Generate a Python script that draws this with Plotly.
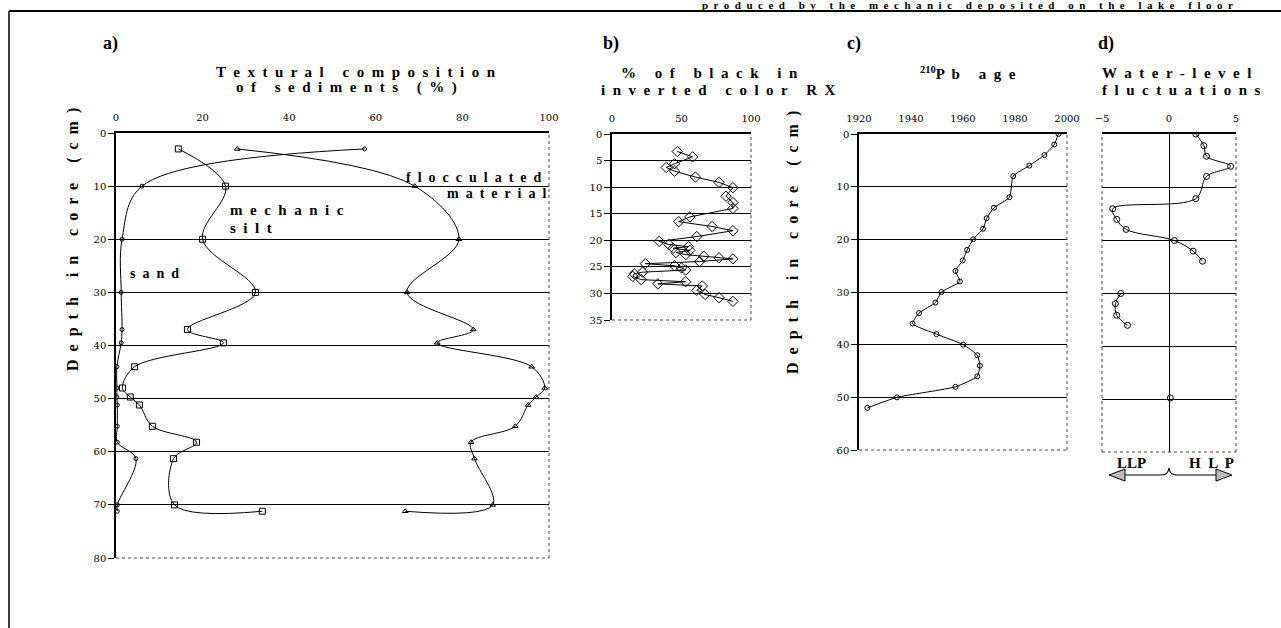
import plotly.graph_objects as go

# ---------------- data ----------------
# a) textural composition (%)
depth_a = [3, 10, 20, 30, 37, 39.5, 44, 48, 49.7, 51.2, 55.2, 58.2, 61.3, 70, 71.2]
sand = [57.4, 6, 1.4, 1.2, 1.4, 1.2, 0.2, 0.2, 0.2, 0.3, 0.3, 0.3, 4.6, 0.3, 0.3]
silt = [14.4, 25.3, 20.0, 32.2, 16.5, 24.8, 4.3, 1.5, 3.3, 5.4, 8.4, 18.6, 13.3, 13.5, 33.8]
flocc = [28.0, 69.0, 79.2, 67.2, 82.5, 74.2, 96.0, 99.0, 97.0, 95.2, 92.2, 82.0, 82.8, 87.0, 66.8]

# b) % of black in inverted color RX
depth_b = [3.3, 4.3, 5.6, 6.3, 7.0, 8.1, 9.1, 10.1, 11.7, 12.9, 14.0, 15.6, 16.5, 17.4, 18.2,
           19.3, 20.2, 20.8, 21.2, 21.5, 21.9, 22.3, 22.7, 23.0, 23.3, 23.5, 24.0, 24.4, 24.8,
           25.2, 25.6, 26.0, 26.3, 26.8, 27.4, 27.8, 28.2, 28.6, 29.4, 30.2, 30.8, 31.5]
black_b = [47, 58, 45, 39, 45, 60, 77, 87, 82, 87, 87, 56, 48, 72, 87,
           61, 34, 41, 55, 44, 56, 46, 53, 66, 77, 87, 63, 24, 45,
           50, 53, 22, 16, 15, 21, 53, 33, 65, 61, 67, 77, 87]

# c) 210Pb age
depth_c = [0, 2, 4, 6, 8, 12, 14, 16, 18, 20, 22, 24, 26, 28, 30, 32, 34, 36, 38, 40,
           42, 44, 46, 48, 50, 52]
age_c = [1996.7, 1995.1, 1991.3, 1985.5, 1979.3, 1977.9, 1971.9, 1969.1, 1967.7, 1963.9,
         1961.6, 1959.9, 1957.1, 1958.8, 1951.7, 1949.4, 1943.1, 1940.6, 1949.8, 1960.1,
         1965.5, 1966.5, 1965.5, 1957.1, 1934.6, 1923.2]

# d) water-level fluctuations
depth_d = [0, 2.2, 4.2, 6.1, 8.0, 12.2, 14.1, 16.1, 18.0, 20.1, 22.1, 24.0, None,
           30.1, 32.0, 34.2, 36.1, None, 49.8]
wl_d = [2.0, 2.6, 2.8, 4.6, 2.8, 2.0, -4.2, -3.9, -3.2, 0.4, 1.8, 2.5, None,
        -3.6, -4.0, -3.9, -3.1, None, 0.1]

ticks_a_x = [0, 20, 40, 60, 80, 100]
ticks_a_y = [0, 10, 20, 30, 40, 50, 60, 70, 80]
grid_a = [10, 20, 30, 40, 50, 60, 70]
ticks_b_x = [0, 50, 100]
ticks_b_y = [0, 5, 10, 15, 20, 25, 30, 35]
grid_b = [5, 10, 15, 20, 25, 30]
ticks_c_x = [1920, 1940, 1960, 1980, 2000]
ticks_c_y = [0, 10, 20, 30, 40, 50, 60]
grid_cd = [10, 20, 30, 40, 50]
ticks_d_x = [-5, 0, 5]

W, H = 1281, 628
FONT = "Liberation Serif"
TICKFONT = "DejaVu Serif"


def px(x):
    return x / W


def py(y):
    return 1 - y / H


def spaced(s, gap=" \u00a0", wordgap=" \u00a0 \u00a0 "):
    return wordgap.join(gap.join(list(w)) for w in s.split(" "))


fig = go.Figure()

line_style = dict(color="black", width=1)
# panel a
fig.add_trace(go.Scatter(x=sand, y=depth_a, mode="lines+markers", line=dict(shape="spline", smoothing=1.0, **line_style),
                         marker=dict(symbol="circle-open", size=4, color="black", line=dict(width=1)),
                         xaxis="x", yaxis="y", name="sand"))
fig.add_trace(go.Scatter(x=silt, y=depth_a, mode="lines+markers", line=dict(shape="spline", smoothing=1.0, **line_style),
                         marker=dict(symbol="square-open", size=6, color="black", line=dict(width=1)),
                         xaxis="x", yaxis="y", name="mechanic silt"))
fig.add_trace(go.Scatter(x=flocc, y=depth_a, mode="lines+markers", line=dict(shape="spline", smoothing=1.0, **line_style),
                         marker=dict(symbol="triangle-up-open", size=5, color="black", line=dict(width=1)),
                         xaxis="x", yaxis="y", name="flocculated material"))
# panel b
fig.add_trace(go.Scatter(x=black_b, y=depth_b, mode="lines+markers", line=line_style,
                         marker=dict(symbol="diamond-open", size=8, color="black", line=dict(width=1)),
                         xaxis="x2", yaxis="y2", name="black"))
# panel c
fig.add_trace(go.Scatter(x=age_c, y=depth_c, mode="lines+markers", line=dict(shape="spline", smoothing=0.5, **line_style),
                         marker=dict(symbol="circle-open", size=5, color="black", line=dict(width=1)),
                         xaxis="x3", yaxis="y3", name="Pb age"))
# panel d
fig.add_trace(go.Scatter(x=wl_d, y=depth_d, mode="lines+markers", connectgaps=False,
                         line=dict(shape="spline", smoothing=1.0, **line_style),
                         marker=dict(symbol="circle-open", size=6, color="black", line=dict(width=1)),
                         xaxis="x4", yaxis="y4", name="water level"))

tickfont = dict(family=TICKFONT, size=10, color="black")


def xax(domain, rng, tickvals, anchor):
    return dict(domain=domain, range=rng, side="top", anchor=anchor, tickvals=tickvals,
                showline=True, linecolor="black", linewidth=1.5, ticks="", ticklabelstandoff=6,
                showgrid=False, zeroline=False, tickfont=tickfont, fixedrange=True, automargin=False)


def yax(domain, rng, tickvals, grid, anchor, labels=True, line=True):
    return dict(domain=domain, range=rng, anchor=anchor, tickvals=tickvals,
                showticklabels=labels, showline=line, linecolor="black", linewidth=1.5,
                ticks="outside" if labels else "", ticklen=6, tickcolor="black",
                showgrid=False, zeroline=False, tickfont=tickfont, automargin=False, fixedrange=True,
                minor=dict(tickvals=grid, showgrid=True, gridcolor="black", gridwidth=1.3, ticks=""))


fig.update_layout(
    width=W, height=H, margin=dict(l=0, r=0, t=0, b=0, autoexpand=False),
    paper_bgcolor="white", plot_bgcolor="white", showlegend=False,
    xaxis=xax([px(116), px(549)], [0, 100], ticks_a_x, "y"),
    yaxis=yax([py(558), py(133)], [80, 0], ticks_a_y, grid_a, "x"),
    xaxis2=xax([px(612), px(751)], [0, 100], ticks_b_x, "y2"),
    yaxis2=yax([py(320), py(134)], [35, 0], ticks_b_y, grid_b, "x2"),
    xaxis3=xax([px(859), px(1067)], [1920, 2000], ticks_c_x, "y3"),
    yaxis3=yax([py(450), py(134)], [60, 0], ticks_c_y, grid_cd, "x3"),
    xaxis4=xax([px(1102), px(1236)], [-5, 5], ticks_d_x, "y4"),
    yaxis4=yax([py(452), py(134)], [60, 0], ticks_c_y, grid_cd, "x4", labels=False, line=False),
)
fig.update_layout(xaxis4=dict(zeroline=True, zerolinecolor="black", zerolinewidth=1.3))

shapes = []
dot = dict(color="#444444", width=1, dash="dot")
for i in ["", "2", "3", "4"]:
    shapes.append(dict(type="line", xref=f"x{i} domain", yref=f"y{i} domain", x0=1, x1=1, y0=0, y1=1, line=dot))
    shapes.append(dict(type="line", xref=f"x{i} domain", yref=f"y{i} domain", x0=0, x1=1, y0=0, y1=0, line=dot))
shapes.append(dict(type="line", xref="x4 domain", yref="y4 domain", x0=0, x1=0, y0=0, y1=1, line=dot))
# outer frame
shapes.append(dict(type="line", xref="paper", yref="paper", x0=px(9), x1=1, y0=py(11), y1=py(11),
                   line=dict(color="black", width=2)))
shapes.append(dict(type="line", xref="paper", yref="paper", x0=px(9), x1=px(9), y0=py(11), y1=0,
                   line=dict(color="black", width=1.5)))
# brace and arrows under d)
shapes.append(dict(type="path", xref="paper", yref="paper",
                   path=f"M {px(1124)},{py(475)} L {px(1162)},{py(475)} Q {px(1168)},{py(475)} {px(1169)},{py(468)} "
                        f"Q {px(1170)},{py(475)} {px(1176)},{py(475)} L {px(1216)},{py(475)}",
                   line=dict(color="black", width=1.2)))
shapes.append(dict(type="path", xref="paper", yref="paper",
                   path=f"M {px(1109)},{py(475)} L {px(1125)},{py(469)} L {px(1125)},{py(481)} Z",
                   line=dict(color="black", width=1), fillcolor="#bbbbbb"))
shapes.append(dict(type="path", xref="paper", yref="paper",
                   path=f"M {px(1232)},{py(475)} L {px(1216)},{py(469)} L {px(1216)},{py(481)} Z",
                   line=dict(color="black", width=1), fillcolor="#bbbbbb"))
fig.update_layout(shapes=shapes)

ann = []


def text(x, y, s, size=14, bold=False, xanchor="center", angle=0, sp=True, family=FONT, gap=" \u00a0"):
    t = spaced(s, gap=gap) if sp else s
    if bold:
        t = f"<b>{t}</b>"
    ann.append(dict(x=px(x), y=py(y), xref="paper", yref="paper", text=t, showarrow=False,
                    xanchor=xanchor, yanchor="middle", textangle=angle,
                    font=dict(family=family, size=size, color="black")))


text(110, 43, "a)", size=18, bold=True, sp=False)
text(611, 44, "b)", size=18, bold=True, sp=False)
text(854, 44, "c)", size=18, bold=True, sp=False)
text(1106, 44, "d)", size=18, bold=True, sp=False)

text(356, 72, "Textural composition", size=15, bold=True)
text(346, 88, "of sediments (%)", size=15, bold=True)
text(710, 73, "% of black in", size=15, bold=True)
text(718, 90, "inverted color RX", size=15, bold=True)
ann.append(dict(x=px(968), y=py(73), xref="paper", yref="paper", showarrow=False,
                text="<b><sup>210</sup>" + spaced("Pb age") + "</b>", xanchor="center", yanchor="middle",
                font=dict(family=FONT, size=15, color="black")))
text(1100, 73, "Water-level", size=15, bold=True, xanchor="left")
text(1100, 90, "fluctuations", size=15, bold=True, xanchor="left")

text(73, 240, "Depth in core (cm)", size=16, bold=True, angle=-90)
text(793, 243, "Depth in core (cm)", size=16, bold=True, angle=-90)

text(474, 177, "flocculated", size=14, bold=True)
text(548, 193, "material", size=14, bold=True, xanchor="right")
text(228, 210, "mechanic", size=15, bold=True, xanchor="left")
text(228, 228, "silt", size=15, bold=True, xanchor="left")
text(128, 273, "sand", size=14, bold=True, xanchor="left")

text(1131, 463, "LLP", size=15, bold=True, sp=False)
text(1211, 463, "HLP", size=15, bold=True)

ann.append(dict(x=px(700), y=py(5.5), xref="paper", yref="paper", showarrow=False,
                text="<b>" + spaced("produced by the mechanic deposited on the lake floor") + "</b>",
                xanchor="left", yanchor="middle", font=dict(family=FONT, size=11, color="black")))

fig.update_layout(annotations=ann)
fig.write_html("out.html", config={"displayModeBar": False},
               post_script="document.body.style.margin='0px';document.body.style.overflow='hidden';")
